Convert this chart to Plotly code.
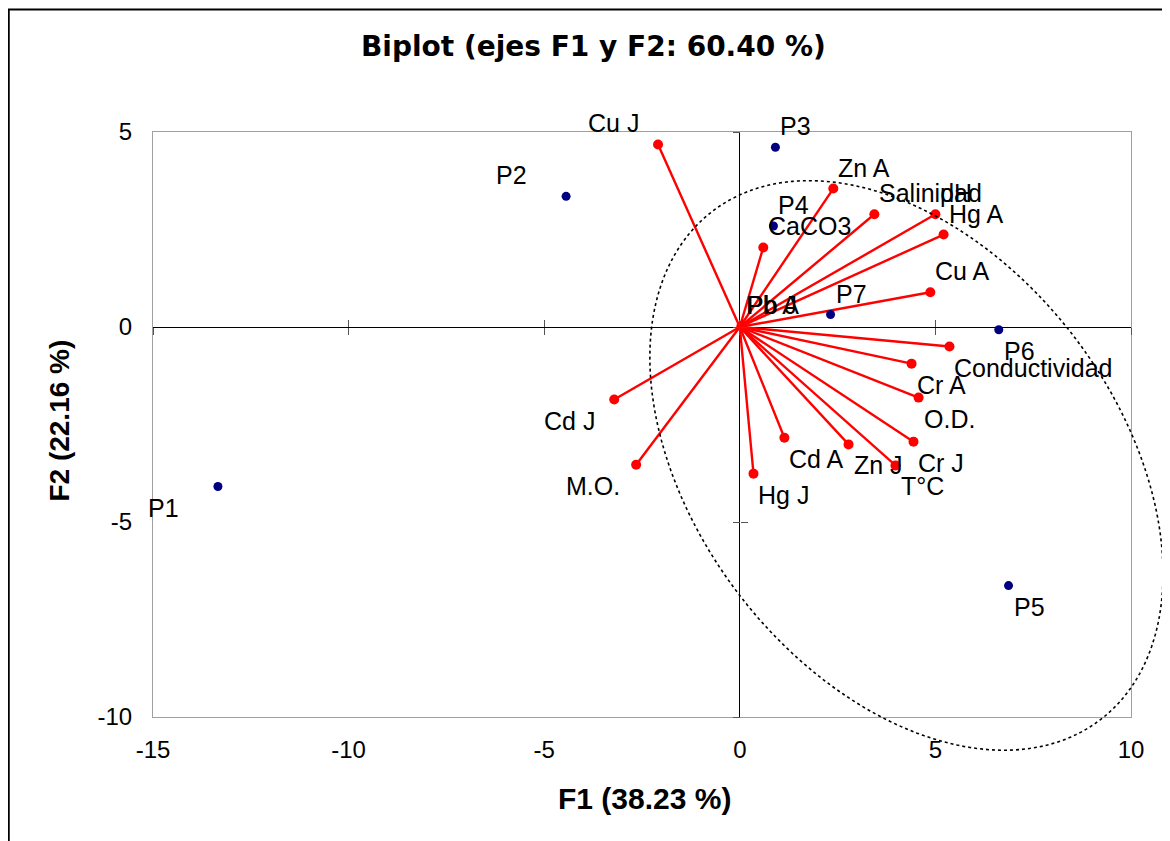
import numpy as np
import plotly.graph_objects as go

# ---------------- data ----------------
obs_names = ["P1", "P2", "P3", "P4", "P5", "P6", "P7"]
obs_f1 = [-13.34, -4.44, 0.91, 0.86, 6.87, 6.62, 2.32]
obs_f2 = [-4.09, 3.35, 4.61, 2.59, -6.63, -0.07, 0.32]

var_names = ["Cu J", "Zn A", "Salinidad", "pH", "Hg A", "CaCO3", "Cu A", "Pb A", "Pb J",
             "Conductividad", "Cr A", "O.D.", "Cr J", "T°C", "Zn J", "Cd A", "Hg J", "M.O.", "Cd J"]
var_f1 = [-2.09, 2.39, 3.44, 5.00, 5.21, 0.60, 4.87, 0.04, 0.06,
          5.36, 4.39, 4.57, 4.44, 3.98, 2.78, 1.14, 0.35, -2.65, -3.21]
var_f2 = [4.68, 3.55, 2.89, 2.89, 2.37, 2.04, 0.89, 0.02, 0.03,
          -0.50, -0.94, -1.81, -2.94, -3.55, -3.01, -2.84, -3.76, -3.53, -1.86]

x_ticks = [-15, -10, -5, 0, 5, 10]
y_ticks = [-10, -5, 0, 5]
x_tick_labels = ["-15", "-10", "-5", "0", "5", "10"]
y_tick_labels = ["-10", "-5", "0", "5"]

title_text = "Biplot (ejes F1 y F2: 60.40 %)"
x_title = "F1 (38.23 %)"
y_title = "F2 (22.16 %)"

# hand-drawn grouping ellipse (data units)
ell_center = (4.26, -3.55)
ell_axes = (8.19, 5.41)
ell_angle_deg = -52.9

X_RANGE = [-15, 10]
Y_RANGE = [-10, 5]

# ---------------- figure ----------------
fig = go.Figure()

# vectors from origin
lx, ly = [], []
for vx, vy in zip(var_f1, var_f2):
    lx += [0, vx, None]
    ly += [0, vy, None]
fig.add_trace(go.Scatter(x=lx, y=ly, mode="lines",
                         line=dict(color="#FF0000", width=2.4),
                         hoverinfo="skip", showlegend=False))
fig.add_trace(go.Scatter(x=var_f1, y=var_f2, mode="markers", text=var_names,
                         marker=dict(color="#FF0000", size=10),
                         showlegend=False, cliponaxis=False))
fig.add_trace(go.Scatter(x=obs_f1, y=obs_f2, mode="markers", text=obs_names,
                         marker=dict(color="#000080", size=9),
                         showlegend=False, cliponaxis=False))

# dummy traces to activate the cross-tick overlay axes
fig.add_trace(go.Scatter(x=[None], y=[None], xaxis="x2", yaxis="y2",
                         showlegend=False, hoverinfo="skip"))
fig.add_trace(go.Scatter(x=[None], y=[None], xaxis="x3", yaxis="y3",
                         showlegend=False, hoverinfo="skip"))

label_font = dict(family="Liberation Sans, Arial", size=25, color="#000000")
annotations = []
for names, xs, ys in ((var_names, var_f1, var_f2), (obs_names, obs_f1, obs_f2)):
    for n, x, y in zip(names, xs, ys):
        annotations.append(dict(
            x=x, y=y, xref="x", yref="y", text=n, showarrow=False,
            xanchor="left", yanchor="middle",
            xshift=(3 if x >= 0 else -72), yshift=(21 if y >= 0 else -21),
            font=label_font))

# title & axis titles
annotations.append(dict(text="<b>" + title_text + "</b>", x=0.45, y=1.1454,
                        xref="paper", yref="paper", showarrow=False,
                        xanchor="center", yanchor="middle",
                        font=dict(family="DejaVu Sans", size=28, color="#000000")))
annotations.append(dict(text="<b>" + x_title + "</b>", x=0.503, y=-0.139,
                        xref="paper", yref="paper", showarrow=False,
                        xanchor="center", yanchor="middle",
                        font=dict(family="Liberation Sans, Arial", size=30, color="#000000")))
annotations.append(dict(text="<b>" + y_title + "</b>", x=-0.0957, y=0.5074,
                        xref="paper", yref="paper", showarrow=False, textangle=-90,
                        xanchor="center", yanchor="middle",
                        font=dict(family="Liberation Sans, Arial", size=28, color="#000000")))

# ellipse path in paper coordinates
t = np.linspace(0, 2 * np.pi, 241)
phi = np.deg2rad(ell_angle_deg)
ex = ell_center[0] + ell_axes[0] * np.cos(t) * np.cos(phi) - ell_axes[1] * np.sin(t) * np.sin(phi)
ey = ell_center[1] + ell_axes[0] * np.cos(t) * np.sin(phi) + ell_axes[1] * np.sin(t) * np.cos(phi)
px = (ex - X_RANGE[0]) / (X_RANGE[1] - X_RANGE[0])
py = (ey - Y_RANGE[0]) / (Y_RANGE[1] - Y_RANGE[0])
path = "M " + " L ".join(f"{a:.5f},{b:.5f}" for a, b in zip(px, py)) + " Z"

shapes = [
    dict(type="path", path=path, xref="paper", yref="paper",
         line=dict(color="#000000", width=1.6, dash="dot"), layer="above"),
    # outer chart frame
    dict(type="rect", xref="paper", yref="paper", x0=-0.1475, x1=1.07, y0=-0.25, y1=1.2095,
         line=dict(color="#000000", width=2), layer="below"),
]

tick_font = dict(family="Liberation Sans, Arial", size=24, color="#000000")
common = dict(showgrid=False, zeroline=True, zerolinecolor="#000000", zerolinewidth=1,
              showline=True, mirror=True, linecolor="#A0A0A0", linewidth=1,
              ticks="", tickfont=tick_font)

y0_pos = (0 - Y_RANGE[0]) / (Y_RANGE[1] - Y_RANGE[0])
x0_pos = (0 - X_RANGE[0]) / (X_RANGE[1] - X_RANGE[0])
cross = dict(showgrid=False, zeroline=False, showline=False, showticklabels=False,
             ticklen=7, tickwidth=1, tickcolor="#555555")

fig.update_layout(
    width=1162, height=833,
    margin=dict(l=145, r=39, t=124, b=124, pad=0),
    paper_bgcolor="#FFFFFF", plot_bgcolor="#FFFFFF",
    showlegend=False,
    xaxis=dict(range=X_RANGE, tickvals=x_ticks, ticktext=x_tick_labels,
               ticklabelstandoff=11, **common),
    yaxis=dict(range=Y_RANGE, tickvals=y_ticks, ticktext=y_tick_labels,
               ticklabelstandoff=15, **common),
    xaxis2=dict(overlaying="x", anchor="free", position=y0_pos, range=X_RANGE,
                tickvals=x_ticks, ticks="outside", side="bottom", **cross),
    xaxis3=dict(overlaying="x", anchor="free", position=y0_pos, range=X_RANGE,
                tickvals=x_ticks, ticks="inside", side="bottom", **cross),
    yaxis2=dict(overlaying="y", anchor="free", position=x0_pos, range=Y_RANGE,
                tickvals=y_ticks, ticks="outside", side="left", **cross),
    yaxis3=dict(overlaying="y", anchor="free", position=x0_pos, range=Y_RANGE,
                tickvals=y_ticks, ticks="inside", side="left", **cross),
    annotations=annotations,
    shapes=shapes,
)

fig.write_html("out.html")
